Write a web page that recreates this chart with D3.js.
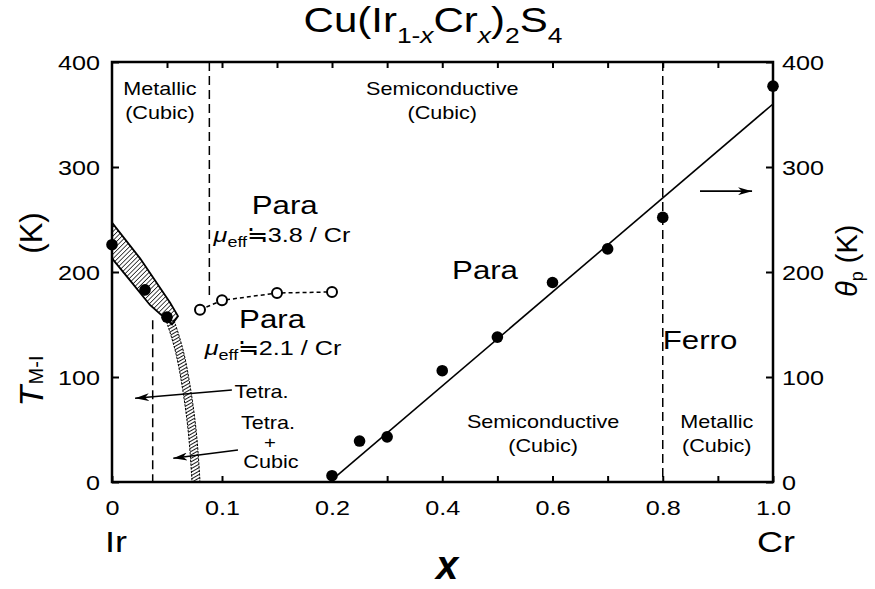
<!DOCTYPE html>
<html>
<head>
<meta charset="utf-8">
<script src="https://d3js.org/d3.v7.min.js"></script>
<style>
  body { margin: 0; background: #fff; }
  svg text { font-family: "Liberation Sans", Arial, sans-serif; fill: #000; }
  .frame { fill: none; stroke: #000; stroke-width: 2.5; }
  .axis path { display: none; }
  .axis line { stroke: #000; stroke-width: 2; }
  .vdash { stroke: #000; stroke-width: 1.5; stroke-dasharray: 9,5; fill: none; }
</style>
</head>
<body>
<svg id="chart" width="875" height="589"></svg>
<script>
// ---- data ----
// T_M-I (filled circles, left)
var tmiX = [0, 0.03, 0.05];
var tmiY = [226, 183, 157];
// open circles (para boundary)
var openX = [0.08, 0.1, 0.15, 0.2];
var openY = [164, 173, 180, 181];
// theta_p (filled circles, right)
var thetaX = [0.2, 0.25, 0.3, 0.4, 0.5, 0.6, 0.7, 0.8, 1.0];
var thetaY = [6, 39, 43, 106, 138, 190, 222, 252, 377];
// straight fit through theta_p
var fitX = [0.2, 1.0];
var fitY = [2, 360];
// hatched M-I band
var bandUpX = [0, 0.0255, 0.0527, 0.06];
var bandUpY = [247, 213, 171, 158];
var bandLoX = [0.0545, 0.0345, 0.0164, 0];
var bandLoY = [150, 168.6, 192, 213];
// wavy tetra/cubic boundary
var waveX = [0.0527, 0.0618, 0.0682, 0.0736, 0.0764];
var waveY = [154, 125.7, 87.6, 46.7, 0];
// dashed phase boundaries: x, top, bottom
var dashX = [0.0885, 0.037, 0.8];
var dashTop = [400, 154, 400];
var dashBot = [175, 0, 0];
// ticks
var xLabelTicks = [0, 0.1, 0.2, 0.4, 0.6, 0.8, 1.0];
var xMinorBottom = [0.3, 0.5, 0.7, 0.9];
var xTopTicks = [0.05, 0.1, 0.15, 0.2, 0.3, 0.4, 0.5, 0.6, 0.7, 0.8, 0.9];
var yTicks = [0, 100, 200, 300, 400];

var svg = d3.select("#chart");
var SX = 1.2; // figure text is horizontally stretched

var x = d3.scaleLinear().domain([0, 0.2, 1.0]).range([112, 332, 773]);
var y = d3.scaleLinear().domain([0, 400]).range([482, 62]);

var defs = svg.append("defs");
defs.append("pattern").attr("id", "hatch").attr("patternUnits", "userSpaceOnUse")
    .attr("width", 3.2).attr("height", 3.2).attr("patternTransform", "rotate(45)")
  .append("line").attr("x1", 0).attr("y1", 0).attr("x2", 0).attr("y2", 3.2)
    .attr("stroke", "#000").attr("stroke-width", 1.4);
defs.append("pattern").attr("id", "hatch2").attr("patternUnits", "userSpaceOnUse")
    .attr("width", 3).attr("height", 3).attr("patternTransform", "rotate(60)")
  .append("line").attr("x1", 0).attr("y1", 0).attr("x2", 0).attr("y2", 3)
    .attr("stroke", "#000").attr("stroke-width", 1.8);
defs.append("marker").attr("id", "arr").attr("viewBox", "0 0 14 8")
    .attr("refX", 14).attr("refY", 4).attr("markerWidth", 14).attr("markerHeight", 8)
    .attr("markerUnits", "userSpaceOnUse").attr("orient", "auto")
  .append("path").attr("d", "M0,0 L14,4 L0,8 L4,4 Z").attr("fill", "#000");

// ---- axes ----
function fmtX(d) { return d === 0 ? "0" : d3.format(".1f")(d); }

var gb = svg.append("g").attr("class", "axis").attr("transform", "translate(0,482)")
    .call(d3.axisBottom(x).tickValues(xLabelTicks).tickSizeInner(-6).tickSizeOuter(0).tickFormat(fmtX));
gb.selectAll("text").attr("y", 33).attr("dy", 0).style("font-size", "21px")
    .attr("transform", "scale(" + SX + ",1)");
svg.append("g").attr("class", "axis").attr("transform", "translate(0,482)")
    .call(d3.axisBottom(x).tickValues(xMinorBottom).tickSizeInner(-6).tickSizeOuter(0).tickFormat(""));
svg.append("g").attr("class", "axis").attr("transform", "translate(0,62)")
    .call(d3.axisTop(x).tickValues(xTopTicks).tickSizeInner(-6).tickSizeOuter(0).tickFormat(""));

var gl = svg.append("g").attr("class", "axis").attr("transform", "translate(112,0)")
    .call(d3.axisLeft(y).tickValues(yTicks).tickSizeInner(-7).tickSizeOuter(0).tickFormat(d3.format("d")));
gl.selectAll("text").attr("x", -10).attr("dy", "0.36em").style("font-size", "21px")
    .attr("transform", "scale(" + SX + ",1)");
var gr = svg.append("g").attr("class", "axis").attr("transform", "translate(773,0)")
    .call(d3.axisRight(y).tickValues(yTicks).tickSizeInner(-7).tickSizeOuter(0).tickFormat(d3.format("d")));
gr.selectAll("text").attr("x", 7.5).attr("dy", "0.36em").style("font-size", "21px")
    .attr("transform", "scale(" + SX + ",1)");

svg.append("rect").attr("class", "frame")
    .attr("x", x(0)).attr("y", y(400)).attr("width", x(1) - x(0)).attr("height", y(0) - y(400));

// ---- phase boundaries ----
dashX.forEach(function(d, i) {
  svg.append("line").attr("class", "vdash")
    .attr("x1", x(d)).attr("x2", x(d)).attr("y1", y(dashTop[i])).attr("y2", y(dashBot[i]));
});

var band = bandUpX.map(function(d, i) { return [x(d), y(bandUpY[i])]; })
  .concat(bandLoX.map(function(d, i) { return [x(d), y(bandLoY[i])]; }));
svg.append("path").attr("d", d3.line().curve(d3.curveLinearClosed)(band))
    .attr("fill", "url(#hatch)").attr("stroke", "#000").attr("stroke-width", 1.8);

var wave = waveX.map(function(d, i) { return [d, waveY[i]]; });
svg.append("path")
    .attr("d", d3.area().curve(d3.curveBasis)
      .y(function(d) { return y(d[1]); })
      .x0(function(d) { return x(d[0]) - 4; })
      .x1(function(d) { return x(d[0]) + 4; })(wave))
    .attr("fill", "url(#hatch2)").attr("stroke", "#000").attr("stroke-width", 1)
    .attr("stroke-dasharray", "2.5,1.2");

// dashed line through open circles
var openPts = openX.map(function(d, i) { return [x(d), y(openY[i])]; });
svg.append("path").attr("d", d3.line()(openPts)).attr("fill", "none")
    .attr("stroke", "#000").attr("stroke-width", 1.5).attr("stroke-dasharray", "4,3");

// fit line
svg.append("line").attr("x1", x(fitX[0])).attr("y1", y(fitY[0]))
    .attr("x2", x(fitX[1])).attr("y2", y(fitY[1]))
    .attr("stroke", "#000").attr("stroke-width", 1.6);

// ---- markers ----
svg.selectAll(".tmi").data(tmiX).enter().append("circle")
    .attr("cx", function(d) { return x(d); })
    .attr("cy", function(d, i) { return y(tmiY[i]); })
    .attr("r", 5.8).attr("fill", "#000");
svg.selectAll(".open").data(openX).enter().append("circle")
    .attr("cx", function(d) { return x(d); })
    .attr("cy", function(d, i) { return y(openY[i]); })
    .attr("r", 5).attr("fill", "#fff").attr("stroke", "#000").attr("stroke-width", 2);
svg.selectAll(".theta").data(thetaX).enter().append("circle")
    .attr("cx", function(d) { return x(d); })
    .attr("cy", function(d, i) { return y(thetaY[i]); })
    .attr("r", 5.8).attr("fill", "#000");

// ---- arrows ----
function arrow(x1, t1, x2, t2) {
  svg.append("line").attr("x1", x(x1)).attr("y1", y(t1)).attr("x2", x(x2)).attr("y2", y(t2))
    .attr("stroke", "#000").attr("stroke-width", 1.6).attr("marker-end", "url(#arr)");
}
arrow(0.109, 87.6, 0.021, 79.7);
arrow(0.1145, 30.5, 0.0557, 22.6);
arrow(0.8676, 277, 0.962, 277);

// ---- text ----
function txt(px, py, size, anchor) {
  return svg.append("text")
    .attr("transform", "translate(" + px + "," + py + ") scale(" + SX + ",1)")
    .attr("text-anchor", anchor || "middle").style("font-size", size + "px");
}
function simple(xv, tv, size, s) { return txt(x(xv), y(tv), size).text(s); }

simple(0.0436, 368.6, 18, "Metallic");
simple(0.0436, 345.7, 18, "(Cubic)");
simple(0.4, 368.6, 18, "Semiconductive");
simple(0.4, 345.7, 18, "(Cubic)");
simple(0.157, 255, 26, "Para");
simple(0.1455, 146.7, 26, "Para");
simple(0.4776, 193.3, 26, "Para");
simple(0.8676, 126.7, 26, "Ferro");
simple(0.136, 80, 18, "Tetra.");
simple(0.1418, 50.5, 18, "Tetra.");
simple(0.1436, 32, 17, "+");
simple(0.1445, 13.3, 18, "Cubic");
simple(0.583, 51.4, 18, "Semiconductive");
simple(0.583, 28.6, 18, "(Cubic)");
simple(0.898, 51.4, 18, "Metallic");
simple(0.898, 28.6, 18, "(Cubic)");

function mueff(xv, tv, val) {
  var t = txt(x(xv), y(tv), 21);
  t.append("tspan").style("font-style", "italic").text("\u03bc");
  t.append("tspan").attr("dy", 5).style("font-size", "15px").text("eff");
  t.append("tspan").attr("dy", -5).text("\u2252" + val + " / Cr");
}
mueff(0.1545, 228.6, "3.8");
mueff(0.1464, 121, "2.1");

// title
var title = txt(433, 32, 35);
title.append("tspan").text("Cu(Ir");
title.append("tspan").attr("dy", 11).style("font-size", "22px").text("1-");
title.append("tspan").style("font-size", "22px").style("font-style", "italic").text("x");
title.append("tspan").attr("dy", -11).text("Cr");
title.append("tspan").attr("dy", 11).style("font-size", "22px").style("font-style", "italic").text("x");
title.append("tspan").attr("dy", -11).text(")");
title.append("tspan").attr("dy", 11).style("font-size", "22px").text("2");
title.append("tspan").attr("dy", -11).text("S");
title.append("tspan").attr("dy", 11).style("font-size", "22px").text("4");

// x labels
txt(116, 552, 30).text("Ir");
txt(776, 552, 30).text("Cr");
svg.append("text").attr("x", 447).attr("y", 579).attr("text-anchor", "middle")
    .style("font-size", "40px").style("font-style", "italic").style("font-weight", "bold").text("x");

// left y label
svg.append("text").attr("transform", "translate(43,396) rotate(-90)").attr("text-anchor", "middle")
    .style("font-size", "34px").style("font-style", "italic").text("T");
svg.append("text").attr("transform", "translate(43,370) rotate(-90)").attr("text-anchor", "middle")
    .style("font-size", "20px").text("M-I");
svg.append("text").attr("transform", "translate(42,233) rotate(-90)").attr("text-anchor", "middle")
    .style("font-size", "31px").text("(K)");

// right y label
var rl = svg.append("text").attr("transform", "translate(857,297) rotate(-90)").attr("text-anchor", "start")
    .style("font-size", "29px");
rl.append("tspan").style("font-style", "italic").text("\u03b8");
rl.append("tspan").attr("dy", 6).style("font-size", "18px").text("p");
rl.append("tspan").attr("dy", -6).text(" (K)");
</script>
</body>
</html>
